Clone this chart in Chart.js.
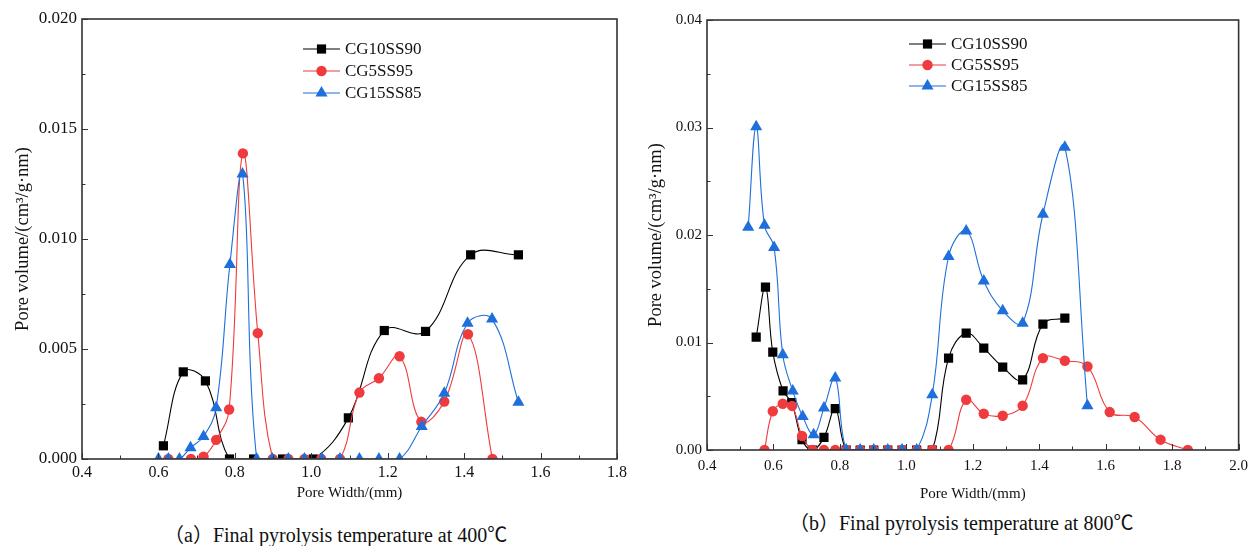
<!DOCTYPE html>
<html>
<head>
<meta charset="utf-8">
<script src="https://cdn.jsdelivr.net/npm/chart.js@4.4.1/dist/chart.umd.min.js"></script>
<style>
  body { margin: 0; background: #fff; width: 1255px; height: 546px; position: relative; overflow: hidden; }
  canvas { position: absolute; top: 0; }
  .cap { position: absolute; white-space: nowrap; font: 20px "Liberation Serif", "Noto Sans CJK SC", serif; color: #111; line-height: 22px; }
</style>
</head>
<body>
<canvas id="chartA" width="640" height="510" style="left:0"></canvas>
<canvas id="chartB" width="615" height="510" style="left:640px"></canvas>
<div class="cap" style="left:164px; top:524px">（a）Final pyrolysis temperature at 400℃</div>
<div class="cap" style="left:789px; top:512px">（b）Final pyrolysis temperature at 800℃</div>
<script>
// Daten (a) 400 °C
const xA_10 = [0.613, 0.665, 0.723, 0.786, 0.849, 0.925, 1.005, 1.097, 1.191, 1.299, 1.417, 1.542];
const yA_10 = [0.0006, 0.00396, 0.00355, 0, 0, 0, 0, 0.00187, 0.00584, 0.0058, 0.00928, 0.00928];
const xA_5 = [0.626, 0.685, 0.718, 0.751, 0.785, 0.821, 0.860, 0.899, 0.940, 0.982, 1.026, 1.075, 1.126, 1.177, 1.231, 1.288, 1.348, 1.410, 1.474];
const yA_5 = [0, 0, 0.0001, 0.00087, 0.00225, 0.01389, 0.00572, 0, 0, 0, 0, 0, 0.00302, 0.00367, 0.00467, 0.00169, 0.00261, 0.00567, 0];
const xA_15 = [0.600, 0.626, 0.655, 0.684, 0.718, 0.751, 0.787, 0.820, 0.857, 0.898, 0.940, 0.982, 1.028, 1.075, 1.126, 1.177, 1.231, 1.289, 1.348, 1.409, 1.473, 1.542];
const yA_15 = [0, 0, 0, 0.00051, 0.00102, 0.00233, 0.00884, 0.01296, 0, 0, 0, 0, 0, 0, 0, 0, 0, 0.00148, 0.00299, 0.00617, 0.00636, 0.00258];

// Daten (b) 800 °C
const xB_10 = [0.548, 0.576, 0.598, 0.629, 0.655, 0.686, 0.718, 0.752, 0.786, 0.819, 0.861, 0.902, 0.944, 0.987, 1.031, 1.078, 1.127, 1.180, 1.233, 1.290, 1.350, 1.411, 1.477];
const yB_10 = [0.0105, 0.01515, 0.0091, 0.0055, 0.0044, 0.00096, 0, 0.00117, 0.00384, 0, 0, 0, 0, 0, 0, 0, 0.00855, 0.01087, 0.00948, 0.00771, 0.00653, 0.01171, 0.01227];
const xB_5 = [0.573, 0.598, 0.628, 0.656, 0.686, 0.718, 0.752, 0.786, 0.819, 0.861, 0.902, 0.944, 0.987, 1.031, 1.078, 1.127, 1.180, 1.233, 1.290, 1.350, 1.411, 1.477, 1.545, 1.612, 1.687, 1.765, 1.847];
const yB_5 = [0, 0.0036, 0.0043, 0.0041, 0.0013, 0, 0, 0, 0, 0, 0, 0, 0, 0, 0, 0, 0.00467, 0.00337, 0.00319, 0.00412, 0.00855, 0.0083, 0.00777, 0.00353, 0.00307, 0.00096, 0];
const xB_15 = [0.524, 0.548, 0.573, 0.602, 0.628, 0.658, 0.688, 0.721, 0.752, 0.786, 0.819, 0.861, 0.902, 0.944, 0.987, 1.031, 1.078, 1.127, 1.180, 1.233, 1.290, 1.350, 1.411, 1.477, 1.545];
const yB_15 = [0.02072, 0.03007, 0.0209, 0.01883, 0.00886, 0.0055, 0.00312, 0.00142, 0.0039, 0.0067, 0, 0, 0, 0, 0, 0, 0.00514, 0.018, 0.02038, 0.01573, 0.01295, 0.0118, 0.02193, 0.02816, 0.00412];

// Achsen-Ticks
const xTicksA = [0.4, 0.6, 0.8, 1.0, 1.2, 1.4, 1.6, 1.8];
const yTicksA = [0, 0.005, 0.010, 0.015, 0.020];
const xTicksB = [0.4, 0.6, 0.8, 1.0, 1.2, 1.4, 1.6, 1.8, 2.0];
const yTicksB = [0, 0.01, 0.02, 0.03, 0.04];

const serien = ["CG10SS90", "CG5SS95", "CG15SS85"];
const farben = ["#000000", "#EF3B3E", "#1E6FDB"];

const FONT = '"Liberation Serif", "Times New Roman", serif';

const zuPunkten = (xs, ys) => xs.map((x, i) => ({ x, y: ys[i] }));

const datensatz = (i, xs, ys) => ({
    label: serien[i],
    data: zuPunkten(xs, ys),
    borderColor: farben[i],
    backgroundColor: farben[i],
    pointBackgroundColor: farben[i],
    pointBorderWidth: 0,
    borderWidth: 1.1,
    tension: 0.4,
    pointStyle: ["rect", "circle", "triangle"][i],
    pointRadius: [6.5, 5.2, 7][i],
    order: 2 - i // blau oben
});

// Ticks nach innen + Rahmen
const innenTicks = {
    id: 'innenTicks',
    afterDatasetsDraw(chart) {
        const { ctx, chartArea: a, scales: { x, y } } = chart;
        const xs = x.ticks.map(t => t.value);
        const ys = y.ticks.map(t => t.value);
        ctx.save();
        ctx.strokeStyle = '#333';
        ctx.lineWidth = 1;
        ctx.beginPath();
        xs.forEach((v, i) => {
            const p = Math.round(x.getPixelForValue(v)) + 0.5;
            ctx.moveTo(p, a.bottom); ctx.lineTo(p, a.bottom - 6);
            if (i < xs.length - 1) {
                const m = Math.round(x.getPixelForValue((v + xs[i + 1]) / 2)) + 0.5;
                ctx.moveTo(m, a.bottom); ctx.lineTo(m, a.bottom - 3.5);
            }
        });
        ys.forEach((v, i) => {
            const p = Math.round(y.getPixelForValue(v)) + 0.5;
            ctx.moveTo(a.left, p); ctx.lineTo(a.left + 6, p);
            if (i < ys.length - 1) {
                const m = Math.round(y.getPixelForValue((v + ys[i + 1]) / 2)) + 0.5;
                ctx.moveTo(a.left, m); ctx.lineTo(a.left + 3.5, m);
            }
        });
        ctx.stroke();
        ctx.lineWidth = 1.6;
        ctx.strokeRect(a.left, a.top, a.right - a.left, a.bottom - a.top);
        ctx.restore();
    }
};

// Legende mit Linie und Marker
const linienLegende = {
    id: 'linienLegende',
    afterDraw(chart, args, opts) {
        const ctx = chart.ctx;
        ctx.save();
        chart.data.datasets.forEach((ds, i) => {
            const y = opts.y + i * opts.abstand;
            ctx.strokeStyle = ds.borderColor;
            ctx.lineWidth = 1.2;
            ctx.beginPath();
            ctx.moveTo(opts.x, y);
            ctx.lineTo(opts.x + opts.laenge, y);
            ctx.stroke();
            ctx.fillStyle = ds.pointBackgroundColor;
            Chart.helpers.drawPoint(ctx, { pointStyle: ds.pointStyle, radius: ds.pointRadius, rotation: 0, borderWidth: 0 }, opts.x + opts.laenge / 2, y);
            ctx.fillStyle = '#111';
            ctx.font = '17px ' + FONT;
            ctx.textBaseline = 'middle';
            ctx.fillText(ds.label, opts.x + opts.laenge + 5, y + 1);
        });
        ctx.restore();
    }
};

const baueChart = (id, datasets, xTicks, yTicks, xDez, yDez, cfg) => {
    const ctx = document.getElementById(id).getContext('2d');
    return new Chart(ctx, {
        type: 'line',
        data: { datasets },
        options: {
            responsive: false,
            devicePixelRatio: 1,
            animation: false,
            layout: { padding: cfg.padding },
            plugins: {
                legend: { display: false },
                tooltip: { enabled: false },
                linienLegende: cfg.legende
            },
            scales: {
                x: {
                    type: 'linear',
                    min: xTicks[0],
                    max: xTicks[xTicks.length - 1],
                    afterBuildTicks: s => { s.ticks = xTicks.map(v => ({ value: v })); },
                    afterFit: s => { s.height = cfg.xHoehe; },
                    grid: { display: false, drawTicks: false },
                    border: { display: false },
                    ticks: {
                        color: '#111',
                        padding: cfg.xPad,
                        maxRotation: 0,
                        font: { family: FONT, size: cfg.xTickGr },
                        callback: v => Number(v).toFixed(xDez)
                    },
                    title: {
                        display: true,
                        text: 'Pore Width/(mm)',
                        color: '#111',
                        font: { family: FONT, size: 15 },
                        padding: { top: 0, bottom: cfg.xTitelPad }
                    }
                },
                y: {
                    type: 'linear',
                    min: yTicks[0],
                    max: yTicks[yTicks.length - 1],
                    afterBuildTicks: s => { s.ticks = yTicks.map(v => ({ value: v })); },
                    afterFit: s => { s.width = cfg.yBreite; },
                    grid: { display: false, drawTicks: false },
                    border: { display: false },
                    ticks: {
                        color: '#111',
                        padding: 5,
                        font: { family: FONT, size: cfg.yTickGr },
                        callback: v => Number(v).toFixed(yDez)
                    },
                    title: {
                        display: true,
                        text: 'Pore volume/(cm³/g·nm)',
                        color: '#111',
                        font: { family: FONT, size: 18.5 },
                        padding: { top: cfg.yTitelPad, bottom: 0 }
                    }
                }
            }
        },
        plugins: [innenTicks, linienLegende]
    });
};

baueChart('chartA', [
    datensatz(0, xA_10, yA_10),
    datensatz(1, xA_5, yA_5),
    datensatz(2, xA_15, yA_15)
], xTicksA, yTicksA, 1, 3, {
    padding: { top: 19, right: 23, left: 0, bottom: 0 },
    xHoehe: 51, yBreite: 82, xPad: 4, xTitelPad: 8, yTitelPad: 12, xTickGr: 16, yTickGr: 17,
    legende: { x: 303, y: 49, abstand: 22, laenge: 37 }
});

baueChart('chartB', [
    datensatz(0, xB_10, yB_10),
    datensatz(1, xB_5, yB_5),
    datensatz(2, xB_15, yB_15)
], xTicksB, yTicksB, 1, 2, {
    padding: { top: 20, right: 12, left: 0, bottom: 0 },
    xHoehe: 60, yBreite: 67, xPad: 7, xTitelPad: 7, yTitelPad: 5, xTickGr: 15, yTickGr: 15,
    legende: { x: 269, y: 44, abstand: 21, laenge: 37 }
});
</script>
</body>
</html>
